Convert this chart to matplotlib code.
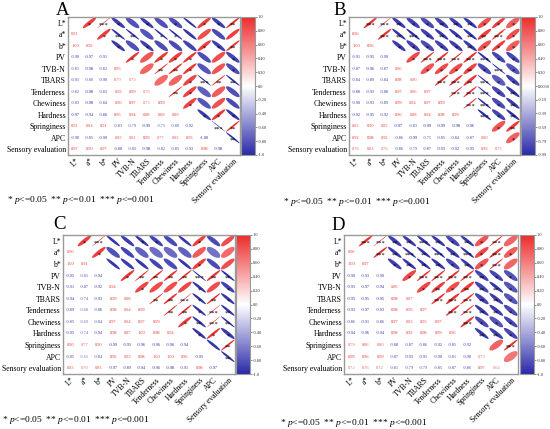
import numpy as np
import matplotlib
matplotlib.use("Agg")
import matplotlib.pyplot as plt
from matplotlib.patches import Ellipse
from matplotlib.colors import LinearSegmentedColormap, Normalize
from matplotlib.cm import ScalarMappable

plt.rcParams['font.family'] = ['Liberation Serif', 'DejaVu Serif']
plt.rcParams['mathtext.fontset'] = 'custom'
plt.rcParams['mathtext.rm'] = 'Liberation Serif'
plt.rcParams['mathtext.it'] = 'Liberation Serif:italic'

variables = ["L*", "a*", "b*", "PV", "TVB-N", "TBARS", "Tenderness", "Chewiness",
             "Hardness", "Springiness", "APC", "Sensory evaluation"]

# lower-triangle correlation coefficients (row i, columns 0..i-1)
A_lower = [
    [0.91],
    [1.00, 0.92],
    [-0.90, -0.97, -0.91],
    [-0.81, -0.98, -0.82, 0.95],
    [-0.91, -0.80, -0.90, 0.79, 0.73],
    [-0.82, -0.98, -0.83, 0.93, 0.99, 0.70],
    [-0.83, -0.98, -0.84, 0.90, 0.97, 0.73, 0.99],
    [-0.97, -0.94, -0.88, 0.95, 0.94, 0.88, 0.89, 0.89],
    [0.91, 0.84, 0.91, -0.83, -0.79, -0.99, -0.75, -0.80, -0.92],
    [-0.90, -0.85, -0.90, 0.83, 0.81, 0.99, 0.77, 0.82, 0.93, -1.00],
    [0.97, 0.90, 0.97, -0.88, -0.83, -0.98, -0.82, -0.85, -0.93, 0.98, -0.98],
]
B_lower = [
    [0.96],
    [1.00, 0.96],
    [-0.91, -0.95, -0.90],
    [-0.87, -0.96, -0.87, 0.86],
    [-0.84, -0.89, -0.84, 0.98, 0.80],
    [-0.88, -0.93, -0.88, 0.97, 0.86, 0.97],
    [-0.90, -0.93, -0.89, 0.99, 0.84, 0.97, 0.99],
    [-0.92, -0.95, -0.92, 0.96, 0.88, 0.94, 0.98, 0.99],
    [0.82, 0.90, 0.82, -0.97, -0.83, -0.99, -0.99, -0.98, -0.96],
    [0.92, 0.98, 0.92, -0.86, -0.99, -0.75, -0.85, -0.84, -0.87, 0.80],
    [0.76, 0.83, 0.76, -0.86, -0.79, -0.87, -0.93, -0.92, -0.95, 0.93, 0.75],
]
C_lower = [
    [0.90],
    [1.00, 0.91],
    [-0.95, -0.81, -0.94],
    [-0.91, -0.87, -0.92, 0.94],
    [-0.94, -0.74, -0.93, 0.99, 0.88],
    [-0.89, -0.68, -0.88, 0.98, 0.84, 0.99],
    [-0.85, -0.69, -0.84, 0.97, 0.84, 0.97, 0.99],
    [-0.95, -0.74, -0.94, 0.98, 0.87, 1.00, 0.98, 0.94],
    [0.90, 0.77, 0.90, -0.99, -0.95, -0.96, -0.96, -0.96, -0.94],
    [-0.85, -0.65, -0.84, 0.96, 0.83, 0.98, 1.00, 1.00, 0.96, -0.95],
    [0.83, 0.70, 0.83, -0.97, -0.89, -0.94, -0.96, -0.98, -0.91, 0.98, -0.97],
]
D_lower = [
    [0.96],
    [1.00, 0.97],
    [-0.90, -0.93, -0.90],
    [-0.93, -0.97, -0.94, 0.86],
    [-0.95, -0.95, -0.95, 0.98, 0.87],
    [-0.93, -0.97, -0.93, 0.98, 0.93, 0.97],
    [-0.86, -0.91, -0.86, 0.97, 0.83, 0.95, 0.97],
    [-0.94, -0.96, -0.94, 0.98, 0.92, 0.98, 0.99, 0.96],
    [0.79, 0.86, 0.80, -0.88, -0.87, -0.86, -0.92, -0.85, -0.92],
    [0.99, 0.96, 0.99, -0.87, -0.93, -0.91, -0.90, -0.81, -0.90, 0.73],
    [0.72, 0.76, 0.72, -0.81, -0.79, -0.79, -0.85, -0.87, -0.86, 0.97, 0.64],
]

# significance marks, upper triangle (row i, columns i+1..11)
A_stars = [
    ["*", "***", "*", "", "*", "", "*", "", "*", "*", "**"],
    ["*", "**", "**", "", "*", "*", "", "", "", ""],
    ["*", "", "*", "", "", "", "*", "*", "**"],
    ["*", "", "*", "*", "*", "", "", "*"],
    ["", "**", "**", "*", "", "", "*"],
    ["", "", "*", "***", "**", "**"],
    ["**", "*", "", "", ""],
    ["*", "", "", ""],
    ["*", "*", "*"],
    ["***", "**"],
    ["**"],
]
B_stars = [
    ["***", "***", "**", "*", "*", "**", "**", "**", "*", "*", "*"],
    ["***", "**", "***", "*", "**", "*", "**", "**", "***", "*"],
    ["*", "*", "*", "*", "*", "**", "*", "*", "*"],
    ["*", "***", "***", "***", "***", "***", "*", "*"],
    ["*", "*", "*", "**", "*", "***", "*"],
    ["***", "***", "**", "***", "*", "*"],
    ["***", "***", "***", "*", "**"],
    ["***", "***", "*", "**"],
    ["***", "*", "**"],
    ["*", "**"],
    ["*"],
]
C_stars = [
    ["*", "***", "", "", "*", "*", "", "", "*", "", ""],
    ["*", "", "", "", "", "", "", "", "", ""],
    ["", "", "", "", "", "", "*", "", ""],
    ["*", "**", "**", "**", "**", "***", "**", "**"],
    ["*", "", "", "", "*", "", "*"],
    ["**", "**", "***", "*", "**", "*"],
    ["**", "**", "*", "***", "**"],
    ["*", "**", "***", "**"],
    ["*", "*", "*"],
    ["", "**"],
    ["**"],
]
D_stars = [
    ["***", "***", "**", "**", "***", "**", "*", "**", "*", "***", ""],
    ["***", "**", "***", "**", "***", "**", "***", "*", "***", "*"],
    ["*", "**", "**", "**", "*", "**", "*", "***", ""],
    ["*", "***", "***", "***", "***", "**", "*", "*"],
    ["*", "**", "*", "**", "**", "**", "*"],
    ["***", "***", "***", "**", "**", "*"],
    ["***", "***", "**", "**", "*"],
    ["***", "*", "*", "*"],
    ["**", "**", "*"],
    ["", "***"],
    [""],
]

std_ticks = [1.0, 0.8, 0.6, 0.4, 0.2, 0.0, -0.2, -0.4, -0.6, -0.8, -1.0]
std_labels = ["1.0", "0.80", "0.60", "0.40", "0.20", "0.0", "-0.20", "-0.40", "-0.60", "-0.80", "-1.0"]
B_ticks = [1.0, 0.80, 0.60, 0.40, 0.20, 0.005, -0.19, -0.39, -0.59, -0.79, -0.99]
B_labels = ["1.0", "0.80", "0.60", "0.40", "0.20", "0.0050", "-0.19", "-0.39", "-0.59", "-0.79", "-0.99"]

panel_letters = ["A", "B", "C", "D"]

cmap = LinearSegmentedColormap.from_list("rb", ["#2A2AA8", "#FFFFFF", "#EC2B2B"])

W, H = 550, 429
fig = plt.figure(figsize=(W / 100, H / 100), dpi=100)


def fx(x):
    return x / W


def fy(y):
    return 1 - y / H


def draw_panel(box, cbox, lower, stars, vmin, ticks, labels, letter, title_xy, legend_xy):
    n = len(variables)
    M = np.eye(n)
    for i, row in enumerate(lower, start=1):
        for j, v in enumerate(row):
            M[i, j] = v
            M[j, i] = v
    norm = Normalize(vmin=vmin, vmax=1.0)
    x0, y0, x1, y1 = box
    ax = fig.add_axes([fx(x0), fy(y1), fx(x1) - fx(x0), fy(y0) - fy(y1)])
    ax.set_xlim(0, n)
    ax.set_ylim(n, 0)
    D = 0.95
    for i in range(n):
        for j in range(n):
            r = M[i, j]
            if j > i:
                major = D * np.sqrt(1 + abs(r))
                minor = max(D * np.sqrt(max(1 - abs(r), 0)), 0.05)
                ang = -45 if r > 0 else 45
                e = Ellipse((j + 0.5, i + 0.5), major, minor, angle=ang,
                            facecolor=cmap(norm(r)), edgecolor='none')
                ax.add_patch(e)
                s = stars[i][j - i - 1]
                if s:
                    ax.text(j + 0.5, i + 0.72, s, ha='center', va='center',
                            fontsize=4.6, color='black')
            elif j < i:
                ax.text(j + 0.5, i + 0.5, f"{r:.2f}", ha='center', va='center',
                        fontsize=3.2, color=cmap(norm(r)))
    ax.set_yticks(np.arange(n) + 0.5)
    ax.set_yticklabels(variables, fontsize=5.6)
    ax.set_xticks(np.arange(n) + 0.5)
    ax.set_xticklabels(variables, fontsize=5.6, rotation=45, ha='right',
                       rotation_mode='anchor')
    ax.tick_params(length=0, pad=1.5)
    for sp in ax.spines.values():
        sp.set_color('#9a9a9a')
        sp.set_linewidth(1.0)

    cx0, cx1 = cbox
    cax = fig.add_axes([fx(cx0), fy(y1), fx(cx1) - fx(cx0), fy(y0) - fy(y1)])
    sm = ScalarMappable(norm=norm, cmap=cmap)
    cb = fig.colorbar(sm, cax=cax)
    cb.set_ticks(ticks)
    cb.set_ticklabels(labels)
    cb.ax.tick_params(labelsize=3.2, length=1.2, width=0.4, pad=1, colors='#333333')
    cb.outline.set_edgecolor('#9a9a9a')
    cb.outline.set_linewidth(0.8)

    fig.text(fx(title_xy[0]), fy(title_xy[1]), letter, fontsize=13.5,
             ha='left', va='baseline')
    fig.text(fx(legend_xy[0]), fy(legend_xy[1]),
             r"* $\mathit{p}$<=0.05  ** $\mathit{p}$<=0.01  *** $\mathit{p}$<=0.001",
             fontsize=6.8, ha='left', va='center')


draw_panel((68, 17, 240, 155), (241, 255), A_lower, A_stars, -1.0, std_ticks, std_labels,
           panel_letters[0], (56, 15), (7, 200))
draw_panel((349, 17, 520, 155), (521, 535), B_lower, B_stars, -0.99, B_ticks, B_labels,
           panel_letters[1], (333, 15), (283, 202))
draw_panel((63, 235, 235, 374), (236, 250), C_lower, C_stars, -1.0, std_ticks, std_labels,
           panel_letters[2], (53, 229), (2, 420))
draw_panel((344, 235, 518, 374), (520, 534), D_lower, D_stars, -1.0, std_ticks, std_labels,
           panel_letters[3], (331, 230), (280, 423))

fig.savefig("out.png", dpi=100)
